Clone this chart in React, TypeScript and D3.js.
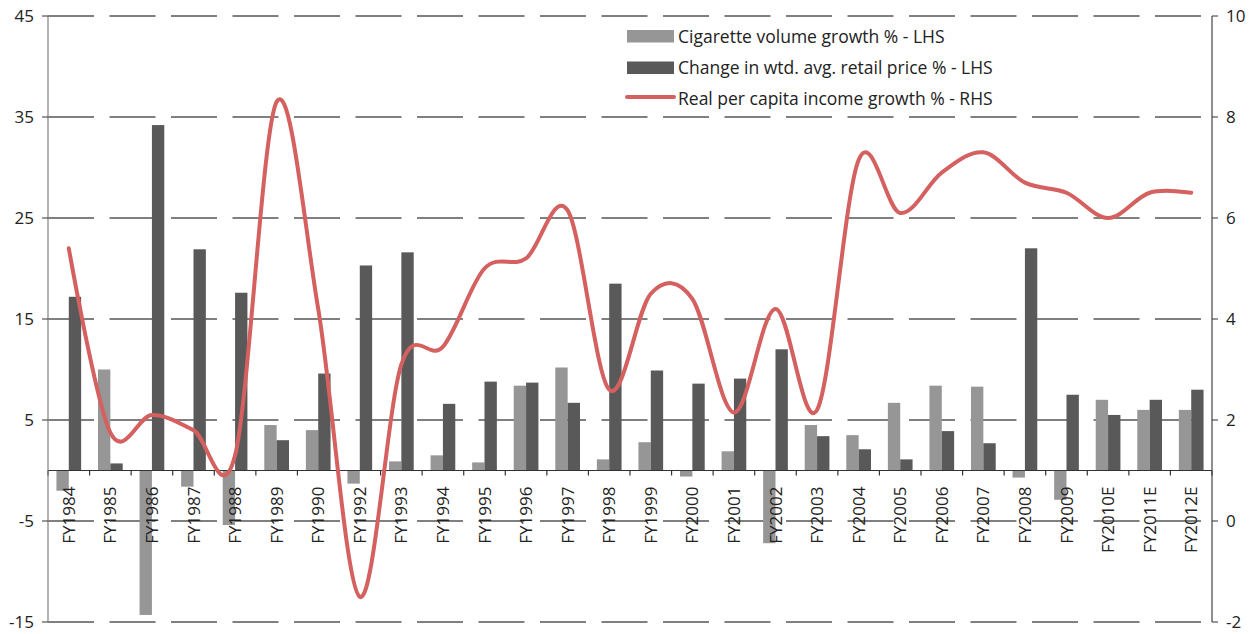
import React from "react";
import * as d3 from "d3";

const categories = ["FY1984","FY1985","FY1986","FY1987","FY1988","FY1989","FY1990","FY1992","FY1993","FY1994","FY1995","FY1996","FY1997","FY1998","FY1999","FY2000","FY2001","FY2002","FY2003","FY2004","FY2005","FY2006","FY2007","FY2008","FY2009","FY2010E","FY2011E","FY2012E"];
const volumeGrowth = [-2.0,10.0,-14.3,-1.6,-5.4,4.5,4.0,-1.3,0.9,1.5,0.8,8.4,10.2,1.1,2.8,-0.6,1.9,-7.2,4.5,3.5,6.7,8.4,8.3,-0.7,-2.9,7.0,6.0,6.0];
const priceChange = [17.2,0.7,34.2,21.9,17.6,3.0,9.6,20.3,21.6,6.6,8.8,8.7,6.7,18.5,9.9,8.6,9.1,12.0,3.4,2.1,1.1,3.9,2.7,22.0,7.5,5.5,7.0,8.0];
const incomeGrowth = [5.4,1.75,2.1,1.8,1.3,8.3,4.2,-1.5,3.1,3.45,5.0,5.2,6.15,2.6,4.5,4.4,2.15,4.2,2.2,7.15,6.1,6.9,7.3,6.7,6.5,6.0,6.5,6.5];
const leftTicks = [45,35,25,15,5,-5,-15];
const rightTicks = [10,8,6,4,2,0,-2];
const legendLabels = ["Cigarette volume growth % - LHS","Change in wtd. avg. retail price % - LHS","Real per capita income growth % - RHS"];

const W = 1252, H = 634;
const X0 = 48, X1 = 1212, YT = 16, YB = 622;
const LIGHT = "#969696", DARK = "#595959", RED = "#d46060";
const FONT = "'Open Sans', 'Noto Sans', sans-serif";

export default function App() {
  const x = d3.scaleBand<string>().domain(categories).range([X0, X1]).padding(0);
  const bw = x.bandwidth();
  const half = 12.35;
  const xs = d3.scaleBand<string>().domain(["vol","price"]).range([bw/2 - half, bw/2 + half]).padding(0);
  const yL = d3.scaleLinear().domain([-15, 45]).range([YB, YT]);
  const yR = d3.scaleLinear().domain([-2, 10]).range([YB, YT]);
  const y0 = yL(0);

  const line = d3.line<number>()
    .x((_, i) => (x(categories[i]) as number) + bw / 2)
    .y((d) => yR(d))
    .curve(d3.curveCardinal.tension(0));

  const boundaries = d3.range(categories.length + 1).map((i) => X0 + i * bw);

  return (
    <svg width={W} height={H} style={{ position: "absolute", left: 0, top: 0, background: "#fff" }} fontFamily={FONT}>
      {leftTicks.map((t) => (
        <line key={"g" + t} x1={X0} x2={X1} y1={yL(t)} y2={yL(t)} stroke="#000" strokeWidth={1} strokeDasharray="46,15.5" />
      ))}
      {categories.map((c, i) => {
        const bx = x(c) as number;
        const v = volumeGrowth[i], p = priceChange[i];
        return (
          <g key={c}>
            <rect x={bx + (xs("vol") as number)} width={xs.bandwidth()} y={Math.min(yL(v), y0)} height={Math.abs(yL(v) - y0)} fill={LIGHT} />
            <rect x={bx + (xs("price") as number)} width={xs.bandwidth()} y={Math.min(yL(p), y0)} height={Math.abs(yL(p) - y0)} fill={DARK} />
          </g>
        );
      })}
      <line x1={X0} x2={X1} y1={y0} y2={y0} stroke="#333" strokeWidth={1.2} />
      {boundaries.map((b, i) => (
        <line key={"t" + i} x1={b} x2={b} y1={y0} y2={y0 + 5} stroke="#333" strokeWidth={1.2} />
      ))}
      {categories.map((c) => {
        const cx = (x(c) as number) + bw / 2;
        return (
          <text key={"l" + c} transform={`translate(${cx + 6},${y0 + 16}) rotate(-90)`} textAnchor="end" fontSize={17} fill="#222">{c}</text>
        );
      })}
      <line x1={X0} x2={X0} y1={YT} y2={YB} stroke="#808080" strokeWidth={1.2} />
      {leftTicks.map((t) => (
        <g key={"lt" + t}>
          <line x1={X0 - 6} x2={X0} y1={yL(t)} y2={yL(t)} stroke="#333" strokeWidth={1} />
          <text x={34} y={yL(t)} dy="0.35em" textAnchor="end" fontSize={17} fill="#222">{t}</text>
        </g>
      ))}
      <line x1={X1} x2={X1} y1={YT} y2={YB} stroke="#444" strokeWidth={1.2} />
      {rightTicks.map((t) => (
        <g key={"rt" + t}>
          <line x1={X1} x2={X1 + 6} y1={yR(t)} y2={yR(t)} stroke="#333" strokeWidth={1} />
          <text x={1226} y={yR(t)} dy="0.35em" textAnchor="start" fontSize={17} fill="#222">{t}</text>
        </g>
      ))}
      <path d={line(incomeGrowth) || ""} fill="none" stroke={RED} strokeWidth={4} strokeLinejoin="round" strokeLinecap="round" />
      <g>
        <rect x={627} y={30} width={47} height={12.5} fill={LIGHT} />
        <rect x={627} y={61.5} width={47} height={12.5} fill={DARK} />
        <line x1={627} x2={674} y1={97} y2={97} stroke={RED} strokeWidth={4} strokeLinecap="round" />
        {legendLabels.map((l, i) => (
          <text key={l} x={678} y={37 + i * 31} dy="0.35em" fontSize={17.5} fill="#222">{l}</text>
        ))}
      </g>
    </svg>
  );
}
